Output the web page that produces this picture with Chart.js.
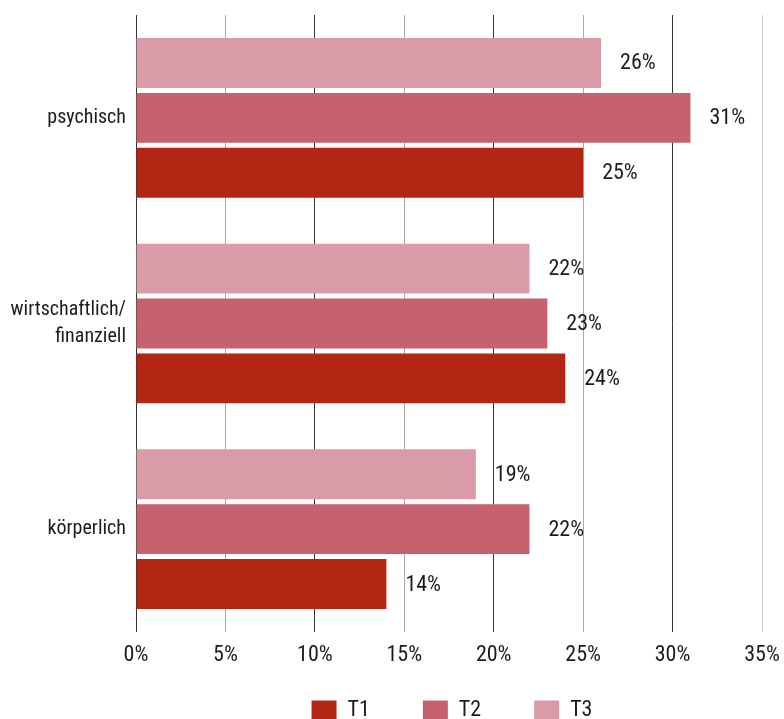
<!DOCTYPE html>
<html>
<head>
<meta charset="utf-8">
<script src="https://cdn.jsdelivr.net/npm/chart.js@4/dist/chart.umd.min.js"></script>
<style>
html,body{margin:0;padding:0;background:#fff;}
#wrap{width:784px;height:719px;position:relative;}
</style>
</head>
<body>
<div id="wrap"><canvas id="c"></canvas></div>
<script>
const categories = ['psychisch', ['wirtschaftlich/', 'finanziell'], 'körperlich'];
const seriesNames = ['T1', 'T2', 'T3'];
const t1Values = [25, 24, 14];
const t2Values = [31, 23, 22];
const t3Values = [26, 22, 19];
const xTicks = [0, 5, 10, 15, 20, 25, 30, 35];
const colors = { T1: '#B22613', T2: '#C6626D', T3: '#DA9BA8' };

const FONT = "'Roboto Condensed', 'Roboto', sans-serif";
const TEXT = '#1c1c1c';

const dataLabels = {
  id: 'dataLabels',
  afterDatasetsDraw(chart) {
    const ctx = chart.ctx;
    ctx.save();
    ctx.font = '22px ' + FONT;
    ctx.fillStyle = TEXT;
    ctx.textAlign = 'left';
    ctx.textBaseline = 'middle';
    chart.data.datasets.forEach((ds, i) => {
      const meta = chart.getDatasetMeta(i);
      meta.data.forEach((el, j) => {
        ctx.fillText(ds.data[j] + '%', el.x + 19, el.y + 1);
      });
    });
    ctx.restore();
  }
};

// center the legend under the plot area and push it to the bottom edge
const legendShift = {
  id: 'legendShift',
  afterLayout(chart) {
    const lg = chart.legend;
    if (!lg) return;
    lg.left = chart.chartArea.left + 3;
    lg.right = chart.chartArea.right + 3;
    lg.width = lg.right - lg.left;
    lg.top += -26;
    lg.bottom = chart.height;
    lg.height = lg.bottom - lg.top;
  }
};

new Chart(document.getElementById('c'), {
  type: 'bar',
  data: {
    labels: categories,
    datasets: [
      { label: seriesNames[2], data: t3Values, backgroundColor: colors.T3 },
      { label: seriesNames[1], data: t2Values, backgroundColor: colors.T2 },
      { label: seriesNames[0], data: t1Values, backgroundColor: colors.T1 }
    ]
  },
  options: {
    indexAxis: 'y',
    responsive: true,
    maintainAspectRatio: false,
    animation: false,
    categoryPercentage: 0.8,
    barPercentage: 0.91,
    layout: { padding: { top: 15, right: 22, left: 0, bottom: 0 } },
    scales: {
      x: {
        min: 0, max: 35,
        afterBuildTicks(scale) { scale.ticks = xTicks.map(v => ({ value: v })); },
        afterFit(scale) { scale.height = 40; scale.paddingLeft = 0; scale.paddingRight = 0; },
        ticks: {
          callback: v => v + '%',
          font: { size: 22, family: FONT },
          color: TEXT,
          padding: 10,
          maxRotation: 0
        },
        grid: {
          drawTicks: false,
          color: c => (c.tick && c.tick.value % 10 === 0) ? '#333333' : (c.tick && c.tick.value === 35 ? '#cccccc' : '#aaaaaa'),
          lineWidth: 1
        },
        border: { display: false }
      },
      y: {
        afterFit(scale) { scale.width = 136; scale.paddingTop = 0; scale.paddingBottom = 0; },
        ticks: {
          font: { size: 20, family: FONT, lineHeight: 1.35 },
          color: TEXT,
          padding: 10
        },
        grid: { display: false, drawTicks: false },
        border: { display: false }
      }
    },
    plugins: {
      legend: {
        position: 'bottom',
        reverse: true,
        maxHeight: 47,
        labels: {
          boxWidth: 25,
          boxHeight: 19,
          padding: 53,
          color: TEXT,
          font: { size: 22, family: FONT }
        }
      },
      tooltip: { enabled: false }
    }
  },
  plugins: [dataLabels, legendShift]
});
</script>
</body>
</html>
